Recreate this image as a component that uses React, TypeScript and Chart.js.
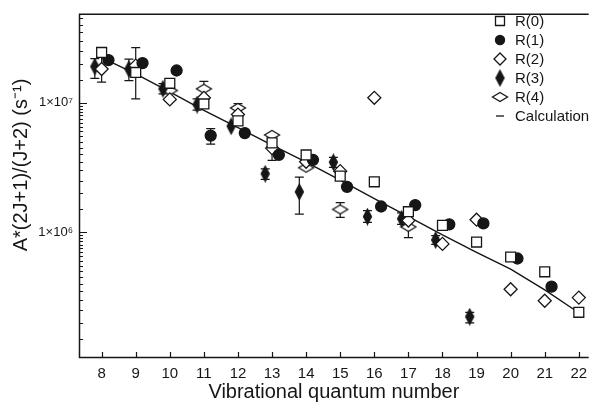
import React, { useEffect, useRef } from "react";
import { Chart, registerables } from "chart.js";

Chart.register(...registerables);

const FONT = "'Liberation Sans', Arial, Helvetica, sans-serif";
const INK = "#161616";

// ---- data (vibrational quantum number v, A*(2J+1)/(J+2) in s^-1) ----
const SERIES_NAMES = ["R(0)", "R(1)", "R(2)", "R(3)", "R(4)"];
const CALC_NAME = "Calculation";

const R0_V = [8, 9, 10, 11, 12, 13, 14, 15, 16, 17, 18, 19, 20, 21, 22];
const R0_A = [2.44e7, 1.71e7, 1.41e7, 9.77e6, 7.24e6, 4.89e6, 3.95e6, 2.71e6, 2.45e6, 1.44e6, 1.13e6, 8.4e5, 6.44e5, 4.95e5, 2.41e5];
const R0_LO = [null, null, null, null, null, null, null, null, null, null, null, null, null, null, null];
const R0_HI = [null, null, null, null, null, null, null, null, null, null, null, null, null, null, null];

const R1_V = [8, 9, 10, 11, 12, 13, 14, 15, 16, 17, 18, 19, 20, 21];
const R1_A = [2.13e7, 2.02e7, 1.77e7, 5.57e6, 5.82e6, 3.96e6, 3.62e6, 2.24e6, 1.58e6, 1.62e6, 1.15e6, 1.17e6, 6.27e5, 3.8e5];
const R1_LO = [null, null, null, 4.79e6, null, null, null, null, null, null, null, null, null, null];
const R1_HI = [null, null, null, 6.3e6, null, null, null, null, null, null, null, null, null, null];

const R2_V = [8, 9, 10, 11, 12, 13, 14, 15, 16, 17, 18, 19, 20, 21, 22];
const R2_A = [1.82e7, 1.93e7, 1.06e7, 1.09e7, 8.09e6, 4.46e6, 3.5e6, 2.96e6, 1.09e7, 1.23e6, 8.13e5, 1.25e6, 3.63e5, 2.96e5, 3.13e5];
const R2_LO = [1.44e7, 1.07e7, null, null, null, 3.59e6, null, null, null, null, null, null, null, null, null];
const R2_HI = [2.3e7, 2.66e7, null, null, null, 5.6e6, null, null, null, null, null, null, null, null, null];

const R3_V = [8, 9, 10, 11, 12, 13, 14, 15, 16, 17, 18, 19];
const R3_A = [1.9e7, 1.82e7, 1.28e7, 9.66e6, 6.58e6, 2.83e6, 2.05e6, 3.47e6, 1.32e6, 1.27e6, 8.72e5, 2.23e5];
const R3_LO = [1.54e7, 1.48e7, 1.17e7, 8.75e6, null, 2.56e6, 1.38e6, 3.17e6, 1.19e6, 1.15e6, 8.05e5, 2.0e5];
const R3_HI = [2.19e7, 2.17e7, 1.4e7, 1.07e7, null, 3.08e6, 2.66e6, 3.78e6, 1.47e6, 1.41e6, 9.4e5, 2.41e5];

const R4_V = [10, 11, 12, 13, 14, 15, 17];
const R4_A = [1.24e7, 1.28e7, 9.11e6, 5.64e6, 3.15e6, 1.5e6, 1.1e6];
const R4_LO = [null, 1.12e7, 8.4e6, null, null, 1.3e6, 9.1e5];
const R4_HI = [null, 1.46e7, 9.82e6, null, null, 1.69e6, 1.35e6];

const CALC_V = [8, 9, 10, 11, 12, 13, 14, 15, 16, 17, 18, 19, 20, 21, 22];
const CALC_A = [2.23e7, 1.67e7, 1.21e7, 8.71e6, 6.41e6, 4.71e6, 3.48e6, 2.52e6, 1.82e6, 1.32e6, 9.53e5, 7.0e5, 5.19e5, 3.59e5, 2.39e5];

const X_TICKS = [8, 9, 10, 11, 12, 13, 14, 15, 16, 17, 18, 19, 20, 21, 22];
const Y_MAJOR = [1e6, 1e7];
const Y_LABELS = ["1×10⁶", "1×10⁷"];

// small horizontal offset used by the original plot to separate branches
const OFFSETS = [0, 0.2, 0, -0.2, 0];

function diamondCanvas(w: number, h: number, filled: boolean) {
  const c = document.createElement("canvas");
  c.width = w + 3;
  c.height = h + 3;
  const g = c.getContext("2d")!;
  const cx = c.width / 2, cy = c.height / 2;
  g.beginPath();
  g.moveTo(cx, cy - h / 2);
  g.lineTo(cx + w / 2, cy);
  g.lineTo(cx, cy + h / 2);
  g.lineTo(cx - w / 2, cy);
  g.closePath();
  g.lineWidth = 1.3;
  g.fillStyle = filled ? INK : "#ffffff";
  g.fill();
  g.strokeStyle = INK;
  g.stroke();
  return c;
}

export default function App() {
  const ref = useRef<HTMLCanvasElement | null>(null);

  useEffect(() => {
    if (!ref.current) return;
    const r3Img = diamondCanvas(8, 15, true);
    const r4Img = diamondCanvas(15, 9, false);

    const series = [
      { v: R0_V, a: R0_A, lo: R0_LO, hi: R0_HI },
      { v: R1_V, a: R1_A, lo: R1_LO, hi: R1_HI },
      { v: R2_V, a: R2_A, lo: R2_LO, hi: R2_HI },
      { v: R3_V, a: R3_A, lo: R3_LO, hi: R3_HI },
      { v: R4_V, a: R4_A, lo: R4_LO, hi: R4_HI },
    ];
    const styles: any[] = [
      { pointStyle: "rect", pointRadius: 7, backgroundColor: "#ffffff" },
      { pointStyle: "circle", pointRadius: 5.5, backgroundColor: INK },
      { pointStyle: "rectRot", pointRadius: 6.5, backgroundColor: "#ffffff" },
      { pointStyle: r3Img, pointRadius: 6, backgroundColor: INK },
      { pointStyle: r4Img, pointRadius: 6, backgroundColor: "#ffffff" },
    ];

    const datasets: any[] = series.map((s, k) => ({
      label: SERIES_NAMES[k],
      data: s.v.map((v, i) => ({ x: v + OFFSETS[k], y: s.a[i] })),
      showLine: false,
      borderColor: INK,
      borderWidth: 1.3,
      ...styles[k],
    }));
    datasets.push({
      label: CALC_NAME,
      data: CALC_V.map((v, i) => ({ x: v, y: CALC_A[i] })),
      showLine: true,
      borderColor: INK,
      borderWidth: 1.4,
      pointRadius: 0,
      fill: false,
      tension: 0,
    });

    const plugin = {
      id: "frameTicksErrors",
      beforeDatasetsDraw(chart: any) {
        const ctx = chart.ctx;
        const xs = chart.scales.x, ys = chart.scales.y;
        ctx.save();
        ctx.strokeStyle = INK;
        ctx.lineWidth = 1.2;
        series.forEach((s, k) => {
          s.v.forEach((v, i) => {
            const lo = s.lo[i], hi = s.hi[i];
            if (lo == null || hi == null) return;
            const x = xs.getPixelForValue(v + OFFSETS[k]);
            const y1 = ys.getPixelForValue(lo);
            const y2 = ys.getPixelForValue(hi);
            ctx.beginPath();
            ctx.moveTo(x, y1); ctx.lineTo(x, y2);
            ctx.moveTo(x - 4.5, y1); ctx.lineTo(x + 4.5, y1);
            ctx.moveTo(x - 4.5, y2); ctx.lineTo(x + 4.5, y2);
            ctx.stroke();
          });
        });
        ctx.restore();
      },
      afterDraw(chart: any) {
        const ctx = chart.ctx;
        const { left, right, top, bottom } = chart.chartArea;
        const xs = chart.scales.x, ys = chart.scales.y;
        ctx.save();
        ctx.strokeStyle = INK;
        ctx.lineWidth = 1.5;
        // frame: top, left, bottom
        ctx.beginPath();
        ctx.moveTo(right, top + 0.5); ctx.lineTo(left + 0.5, top + 0.5);
        ctx.lineTo(left + 0.5, bottom - 0.5); ctx.lineTo(right, bottom - 0.5);
        ctx.stroke();
        // x ticks (inward)
        ctx.lineWidth = 1.2;
        ctx.beginPath();
        X_TICKS.forEach((t) => {
          const x = Math.round(xs.getPixelForValue(t)) + 0.5;
          ctx.moveTo(x, bottom); ctx.lineTo(x, bottom - 6);
        });
        // y major ticks
        Y_MAJOR.forEach((t) => {
          const y = Math.round(ys.getPixelForValue(t)) + 0.5;
          ctx.moveTo(left, y); ctx.lineTo(left + 8, y);
        });
        // y minor ticks
        const minors: number[] = [];
        for (let d = 1e5; d <= 1e7; d *= 10) {
          for (let m = 1.5; m < 10; m += 0.5) minors.push(m * d);
        }
        minors.forEach((t) => {
          if (t <= ys.min || t >= ys.max) return;
          const y = Math.round(ys.getPixelForValue(t)) + 0.5;
          ctx.moveTo(left, y); ctx.lineTo(left + 4, y);
        });
        ctx.stroke();

        // y axis title
        ctx.fillStyle = INK;
        ctx.font = `20px ${FONT}`;
        ctx.textAlign = "center";
        ctx.textBaseline = "middle";
        ctx.save();
        ctx.translate(21, 165);
        ctx.rotate(-Math.PI / 2);
        ctx.fillText("A*(2J+1)/(J+2) (s⁻¹)", 0, 0);
        ctx.restore();

        // legend
        const lx = 500, tx = 515;
        const rows = [21, 40, 59, 78, 97, 116];
        ctx.font = `15px ${FONT}`;
        ctx.textAlign = "left";
        ctx.textBaseline = "middle";
        ctx.lineWidth = 1.3;
        rows.forEach((ry, k) => {
          const name = k < 5 ? SERIES_NAMES[k] : CALC_NAME;
          ctx.beginPath();
          if (k === 0) {
            ctx.rect(lx - 4.5, ry - 4.5, 9, 9);
            ctx.fillStyle = "#fff"; ctx.fill(); ctx.stroke();
          } else if (k === 1) {
            ctx.arc(lx, ry, 5.2, 0, Math.PI * 2);
            ctx.fillStyle = INK; ctx.fill();
          } else if (k === 2) {
            ctx.moveTo(lx, ry - 6); ctx.lineTo(lx + 6, ry); ctx.lineTo(lx, ry + 6); ctx.lineTo(lx - 6, ry); ctx.closePath();
            ctx.fillStyle = "#fff"; ctx.fill(); ctx.stroke();
          } else if (k === 3) {
            ctx.drawImage(r3Img, lx - r3Img.width / 2, ry - r3Img.height / 2);
          } else if (k === 4) {
            ctx.drawImage(r4Img, lx - r4Img.width / 2, ry - r4Img.height / 2);
          } else {
            ctx.moveTo(lx - 4, ry); ctx.lineTo(lx + 4, ry); ctx.stroke();
          }
          ctx.fillStyle = INK;
          ctx.fillText(name, tx, ry + 0.5);
        });
        ctx.restore();
      },
    };

    const chart = new Chart(ref.current, {
      type: "scatter",
      data: { datasets },
      plugins: [plugin],
      options: {
        animation: false,
        responsive: false,
        devicePixelRatio: 1,
        layout: { padding: { top: 11, right: 0, left: 0, bottom: 0 } },
        plugins: { legend: { display: false }, tooltip: { enabled: false } },
        scales: {
          x: {
            type: "linear",
            min: 7.336,
            max: 22.29,
            grid: { display: false, drawTicks: false },
            border: { display: false },
            afterBuildTicks: (s: any) => { s.ticks = X_TICKS.map((value) => ({ value })); },
            afterFit: (s: any) => { s.height = 47; },
            ticks: {
              color: INK,
              padding: 7,
              font: { family: FONT, size: 15 },
              callback: (v: any) => String(v),
            },
            title: {
              display: true,
              text: "Vibrational quantum number",
              color: INK,
              font: { family: FONT, size: 20 },
              padding: { top: 0, bottom: 1 },
            },
          },
          y: {
            type: "logarithmic",
            min: 1.07e5,
            max: 4.85e7,
            grid: { display: false, drawTicks: false },
            border: { display: false },
            afterBuildTicks: (s: any) => { s.ticks = Y_MAJOR.map((value) => ({ value })); },
            afterFit: (s: any) => { s.width = 79; },
            ticks: {
              color: INK,
              padding: 6,
              font: { family: FONT, size: 13 },
              callback: (v: any) => {
                const i = Y_MAJOR.indexOf(Number(v));
                return i >= 0 ? Y_LABELS[i] : "";
              },
            },
          },
        },
      } as any,
    });
    return () => chart.destroy();
  }, []);

  return (
    <div style={{ position: "fixed", left: 0, top: 0, width: 597, height: 405, background: "#fff" }}>
      <canvas ref={ref} width={597} height={405} style={{ width: 597, height: 405, display: "block" }} />
    </div>
  );
}
